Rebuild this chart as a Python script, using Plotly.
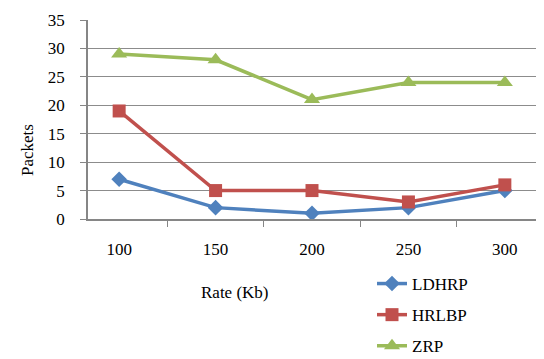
import plotly.graph_objects as go

categories = ["100", "150", "200", "250", "300"]
ldhrp = [7, 2, 1, 2, 5]
hrlbp = [19, 5, 5, 3, 6]
zrp = [29, 28, 21, 24, 24]
y_ticks = [0, 5, 10, 15, 20, 25, 30, 35]

FONT = "'Liberation Serif', 'Times New Roman', Times, serif"
fig = go.Figure()
series = [
    ("LDHRP", ldhrp, "#4F81BD", "diamond", 12),
    ("HRLBP", hrlbp, "#C0504D", "square", 13),
    ("ZRP", zrp, "#9BBB59", "triangle-up", 14),
]
for i, (name, vals, col, sym, sz) in enumerate(series):
    fig.add_trace(go.Scatter(
        x=categories, y=vals, name=name, mode="lines+markers",
        line=dict(color=col, width=3.5),
        marker=dict(symbol=sym, size=sz, color=col),
        legendgroup=f"g{i}",
    ))

ann = [
    dict(text="Packets", x=27, y=150, showarrow=False, xanchor="center", yanchor="middle",
         textangle=-90, font=dict(family=FONT, size=17)),
    dict(text="Rate (Kb)", x=235, y=292, showarrow=False, xanchor="center", yanchor="middle",
         font=dict(family=FONT, size=17)),
]

fig.update_layout(
    width=544, height=359,
    margin=dict(l=88, r=8, t=20, b=140, autoexpand=False),
    paper_bgcolor="white", plot_bgcolor="white",
    font=dict(family=FONT, size=15, color="black"),
    showlegend=True,
    legend=dict(
        xref="container", yref="container",
        x=372 / 544, y=1 - 266 / 359, xanchor="left", yanchor="top",
        font=dict(family=FONT, size=17, color="black"),
        traceorder="grouped", tracegroupgap=6,
        bgcolor="rgba(0,0,0,0)",
    ),
    xaxis=dict(
        type="category", tickson="boundaries", ticks="outside", ticklen=6,
        tickcolor="#868686", showline=True, linecolor="#868686", linewidth=1.5,
        showgrid=False, ticklabelstandoff=14,
        tickfont=dict(family=FONT, size=17),
    ),
    yaxis=dict(
        range=[0, 35], tickvals=y_ticks, ticks="outside", ticklen=6,
        tickcolor="#868686", showline=True, linecolor="#868686", linewidth=1.5,
        showgrid=True, gridcolor="#8c8c8c", gridwidth=1.2, zeroline=False,
        ticklabelstandoff=12,
        tickfont=dict(family=FONT, size=17),
    ),
    annotations=ann,
)
# convert pixel positions of annotations to paper coordinates
pw, ph = 544 - 88 - 8, 359 - 20 - 140
for a in fig.layout.annotations:
    px, py = a.x, a.y
    a.xref = "paper"
    a.yref = "paper"
    a.x = (px - 88) / pw
    a.y = (359 - 140 - py) / ph

fig.write_html("out.html", config={"displayModeBar": False},
               post_script="document.body.style.margin='0px';")
